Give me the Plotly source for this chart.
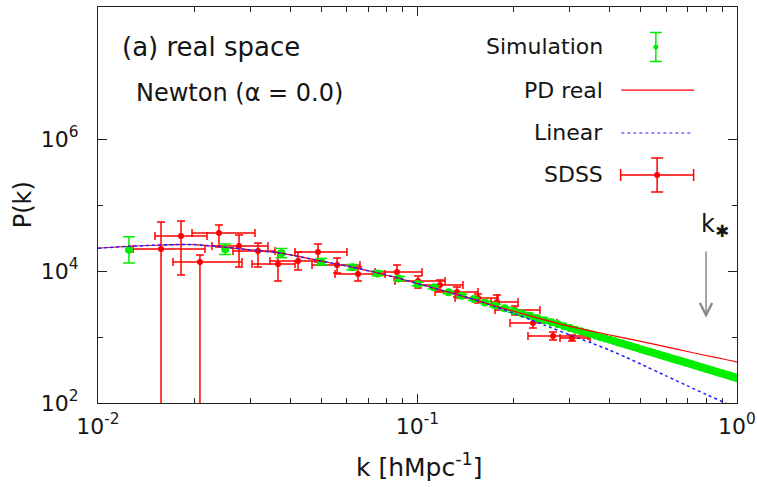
import math
import plotly.graph_objects as go

# ---------------- data ----------------
# Simulation (k in h/Mpc, P(k))
sim_k = [0.0125, 0.025, 0.0375, 0.05, 0.0625, 0.075, 0.0875, 0.1, 0.1125, 0.125,
         0.1375, 0.15, 0.1625, 0.175, 0.1875, 0.2, 0.2125, 0.225, 0.2375, 0.25,
         0.2625, 0.275, 0.2875, 0.3, 0.3125, 0.325, 0.3375, 0.35, 0.3625, 0.375,
         0.3875, 0.4, 0.4125, 0.425, 0.4375, 0.45, 0.4625, 0.475, 0.4875, 0.5,
         0.5125, 0.525, 0.5375, 0.55, 0.5625, 0.575, 0.5875, 0.6, 0.6125, 0.625,
         0.6375, 0.65, 0.6625, 0.675, 0.6875, 0.7, 0.7125, 0.725, 0.7375, 0.75,
         0.7625, 0.775, 0.7875, 0.8, 0.8125, 0.825, 0.8375, 0.85, 0.8625, 0.875,
         0.8875, 0.9, 0.9125, 0.925, 0.9375, 0.95, 0.9625, 0.975, 0.9875, 1.0]
sim_P = [2.09e4, 2.14e4, 1.86e4, 1.38e4, 1.14e4, 9.2e3, 7.7e3, 6.35e3, 5.66e3, 4.75e3,
         4.23e3, 3.77e3, 3340, 3000, 2720, 2470, 2270, 2090, 1930, 1790,
         1670, 1560, 1460, 1370, 1290, 1220, 1160, 1100, 1045, 994,
         949, 906, 866, 829, 795, 764, 734, 706, 679, 655,
         632, 610, 590, 571, 552, 535, 518, 503, 488, 474,
         461, 448, 436, 424, 413, 402, 392, 382, 373, 364,
         355, 347, 339, 331, 324, 317, 310, 303, 297, 291,
         285, 279, 274, 268, 263, 258, 253, 249, 244, 240]
# error in dex
sim_err = [0.20, 0.08, 0.07, 0.05, 0.04, 0.035, 0.03, 0.028, 0.025, 0.022,
           0.02, 0.02, 0.018, 0.018, 0.017, 0.017, 0.016, 0.016, 0.015, 0.015,
           0.015, 0.014, 0.014, 0.014, 0.013, 0.013, 0.013, 0.013, 0.012, 0.012,
           0.012, 0.012, 0.012, 0.011, 0.011, 0.011, 0.011, 0.011, 0.011, 0.011,
           0.010, 0.010, 0.010, 0.010, 0.010, 0.010, 0.010, 0.010, 0.010, 0.010,
           0.010, 0.010, 0.010, 0.010, 0.010, 0.010, 0.010, 0.010, 0.010, 0.010,
           0.010, 0.010, 0.010, 0.010, 0.010, 0.010, 0.010, 0.010, 0.010, 0.010,
           0.010, 0.010, 0.010, 0.010, 0.010, 0.010, 0.010, 0.010, 0.010, 0.010]

# Model curves
curve_k = [0.01, 0.0125, 0.015, 0.0175, 0.02, 0.025, 0.03, 0.0375, 0.05, 0.0625,
           0.075, 0.0875, 0.1, 0.125, 0.15, 0.175, 0.2, 0.25, 0.3, 0.35,
           0.4, 0.45, 0.5, 0.6, 0.7, 0.8, 0.9, 1.0]
linear_P = [22130, 23710, 24550, 25120, 25120, 22910, 20890, 18620, 14130, 11480,
            9333, 7762, 6457, 4786, 3715, 2884, 2291, 1514, 1072, 812.8,
            631, 489.8, 389, 257, 182, 135, 104.7, 81.3]
pd_P = [22130, 23710, 24550, 25120, 25120, 22910, 20890, 18620, 14130, 11480,
        9333, 7762, 6457, 4786, 3715, 2951, 2455, 1820, 1445, 1230,
        1072, 955, 861, 708, 603, 525, 468, 417]

# SDSS
sdss_k = [0.01575, 0.01819, 0.02085, 0.02392, 0.02763, 0.03168, 0.03659, 0.04227, 0.04882, 0.05598,
          0.06514, 0.08628, 0.1004, 0.1176, 0.1329, 0.1547, 0.1773, 0.2020, 0.2298, 0.2655, 0.3045]
sdss_kmin = [0.01287, 0.01508, 0.01717, 0.01969, 0.02274, 0.02646, 0.03034, 0.03453, 0.04136, 0.04675,
             0.05518, 0.07362, 0.08506, 0.1004, 0.1135, 0.1311, 0.1698, 0.1748, 0.1948, 0.2217, 0.2793]
sdss_kmax = [0.02162, 0.02194, 0.02823, 0.03100, 0.03404, 0.03581, 0.04136, 0.04882, 0.06015, 0.06607,
             0.07910, 0.1033, 0.1220, 0.1388, 0.1547, 0.1786, 0.2064, 0.2417, 0.2733, 0.3417, 0.3467]
sdss_P = [2.15e4, 3.39e4, 1.37e4, 3.77e4, 2.39e4, 2.01e4, 1.28e4, 1.42e4, 1.94e4, 1.23e4,
          9.01e3, 9.66e3, 7.05e3, 6.14e3, 4.81e3, 3.90e3, 3.39e3, 2.56e3, 1.63e3, 1.04e3, 966]
sdss_Pmax = [5.53e4, 5.72e4, 1.75e4, 4.98e4, 3.51e4, 2.66e4, 1.94e4, 1.94e4, 2.57e4, 1.57e4,
             1.15e4, 1.23e4, 8.40e3, 7.31e3, 5.72e3, 4.48e3, 4.33e3, 2.95e3, 1.94e3, 1.19e3, 1.07e3]
sdss_Pmin = [10, 8.70e3, 10, 2.31e4, 1.15e4, 1.15e4, 7.05e3, 1.04e4, 1.37e4, 9.33e3,
             7.05e3, 7.57e3, 5.53e3, 4.98e3, 4.04e3, 3.27e3, 2.75e3, 2.15e3, 1.37e3, 901, 869]

k_star = 0.80
x_ticks = [0.01, 0.1, 1.0]
x_ticktext = ["10<sup>-2</sup>", "10<sup>-1</sup>", "10<sup>0</sup>"]
y_ticks = [1e2, 1e4, 1e6]
y_ticktext = ["10<sup>2</sup>", "10<sup>4</sup>", "10<sup>6</sup>"]

# ---------------- figure ----------------
FONT = "DejaVu Sans, Arial, sans-serif"
TXT = "#151515"
RED = "#ff0000"
GREEN = "#00ee00"
BLUE = "#2020ff"

fig = go.Figure()

# SDSS
fig.add_trace(go.Scatter(
    x=sdss_k, y=sdss_P, mode="markers",
    marker=dict(color=RED, size=6),
    error_x=dict(type="data", symmetric=False,
                 array=[b - a for a, b in zip(sdss_k, sdss_kmax)],
                 arrayminus=[a - b for a, b in zip(sdss_k, sdss_kmin)],
                 color=RED, thickness=1.5, width=4),
    error_y=dict(type="data", symmetric=False,
                 array=[b - a for a, b in zip(sdss_P, sdss_Pmax)],
                 arrayminus=[a - b for a, b in zip(sdss_P, sdss_Pmin)],
                 color=RED, thickness=1.5, width=4),
    showlegend=False))

# Simulation
fig.add_trace(go.Scatter(
    x=sim_k, y=sim_P, mode="markers",
    marker=dict(color=GREEN, size=8),
    error_y=dict(type="data", symmetric=False,
                 array=[p * (10 ** e - 1) for p, e in zip(sim_P, sim_err)],
                 arrayminus=[p * (1 - 10 ** (-e)) for p, e in zip(sim_P, sim_err)],
                 color=GREEN, thickness=1.5, width=6),
    showlegend=False))

# PD real
fig.add_trace(go.Scatter(x=curve_k, y=pd_P, mode="lines",
                         line=dict(color=RED, width=1.2, shape="spline", smoothing=0.6),
                         showlegend=False))
# Linear
fig.add_trace(go.Scatter(x=curve_k, y=linear_P, mode="lines",
                         line=dict(color=BLUE, width=1.5, dash="dot", shape="spline", smoothing=0.6),
                         showlegend=False))

# ---- legend samples on an overlay axis (0..1 box) ----
fig.add_trace(go.Scatter(x=[0.873], y=[0.899], mode="markers", xaxis="x2", yaxis="y2",
                         marker=dict(color=GREEN, size=5),
                         error_y=dict(type="data", array=[0.0366], color=GREEN, thickness=1.5, width=6),
                         showlegend=False))
fig.add_trace(go.Scatter(x=[0.819, 0.933], y=[0.790, 0.790], mode="lines", xaxis="x2", yaxis="y2",
                         line=dict(color=RED, width=1.2), showlegend=False))
fig.add_trace(go.Scatter(x=[0.819, 0.927], y=[0.682, 0.682], mode="lines", xaxis="x2", yaxis="y2",
                         line=dict(color="#6a6aff", width=1.5, dash="dot"), showlegend=False))
fig.add_trace(go.Scatter(x=[0.875], y=[0.576], mode="markers", xaxis="x2", yaxis="y2",
                         marker=dict(color=RED, size=6),
                         error_x=dict(type="data", array=[0.0571], color=RED, thickness=1.5, width=6),
                         error_y=dict(type="data", array=[0.043], color=RED, thickness=1.5, width=6),
                         showlegend=False))

legend_items = [("Simulation", 0.899), ("PD real", 0.790), ("Linear", 0.682), ("SDSS", 0.576)]
annotations = []
for name, yy in legend_items:
    annotations.append(dict(text=name, x=0.793, y=yy, xref="paper", yref="paper",
                            xanchor="right", yanchor="middle", showarrow=False,
                            font=dict(family=FONT, size=22, color=TXT)))

annotations += [
    dict(text="(a) real space", x=0.034, y=0.899, xref="paper", yref="paper",
         xanchor="left", yanchor="middle", showarrow=False,
         font=dict(family=FONT, size=26, color=TXT)),
    dict(text="Newton (α = 0.0)", x=0.057, y=0.783, xref="paper", yref="paper",
         xanchor="left", yanchor="middle", showarrow=False,
         font=dict(family=FONT, size=24, color=TXT)),
    dict(text="P(k)", x=-0.117, y=0.5, xref="paper", yref="paper", textangle=-90,
         xanchor="center", yanchor="middle", showarrow=False,
         font=dict(family=FONT, size=24, color=TXT)),
    dict(text="k [hMpc<sup>-1</sup>]", x=0.503, y=-0.157, xref="paper", yref="paper",
         xanchor="center", yanchor="middle", showarrow=False,
         font=dict(family=FONT, size=25, color=TXT)),
    dict(text="k<sub>✱</sub>", x=0.965, y=0.447, xref="paper", yref="paper",
         xanchor="center", yanchor="middle", showarrow=False,
         font=dict(family=FONT, size=24, color=TXT)),
    # k* arrow
    dict(x=math.log10(k_star), y=3.29, ax=math.log10(k_star), ay=4.32,
         xref="x", yref="y", axref="x", ayref="y", text="", showarrow=True,
         arrowhead=5, arrowsize=1.6, arrowwidth=1.5, arrowcolor="#8a8a8a"),
]

axis_common = dict(showgrid=False, zeroline=False, showline=True, linecolor="#222",
                   linewidth=1.2, mirror="ticks", ticks="inside", tickcolor="#222",
                   tickwidth=1.2, ticklen=9, automargin=False,
                   tickfont=dict(family=FONT, size=22, color=TXT))

fig.update_layout(
    width=757, height=487, autosize=False,
    margin=dict(l=98, r=20, t=7, b=84, autoexpand=False),
    paper_bgcolor="white", plot_bgcolor="white",
    xaxis=dict(type="log", range=[-2, 0], tickvals=x_ticks, ticktext=x_ticktext,
               ticklabelstandoff=3,
               minor=dict(tickvals=[0.02, 0.03, 0.04, 0.05, 0.06, 0.07, 0.08, 0.09,
                                    0.2, 0.3, 0.4, 0.5, 0.6, 0.7, 0.8, 0.9],
                          ticks="inside", ticklen=5, tickcolor="#222", tickwidth=1.2, showgrid=False),
               **axis_common),
    yaxis=dict(type="log", range=[2, 8], tickvals=y_ticks, ticktext=y_ticktext,
               ticklabelstandoff=14,
               minor=dict(tickvals=[1e3, 1e5], ticks="inside", ticklen=5, tickcolor="#222",
                          tickwidth=1.2, showgrid=False),
               **axis_common),
    xaxis2=dict(overlaying="x", range=[0, 1], visible=False, fixedrange=True),
    yaxis2=dict(overlaying="y", range=[0, 1], visible=False, fixedrange=True),
    annotations=annotations,
    showlegend=False,
)

# remove the default 8px page margin so the 757x487 figure fills the window exactly
fig.write_html("out.html",
               config={"displayModeBar": False, "responsive": False},
               post_script="document.body.style.margin='0px';document.body.style.overflow='hidden';")
